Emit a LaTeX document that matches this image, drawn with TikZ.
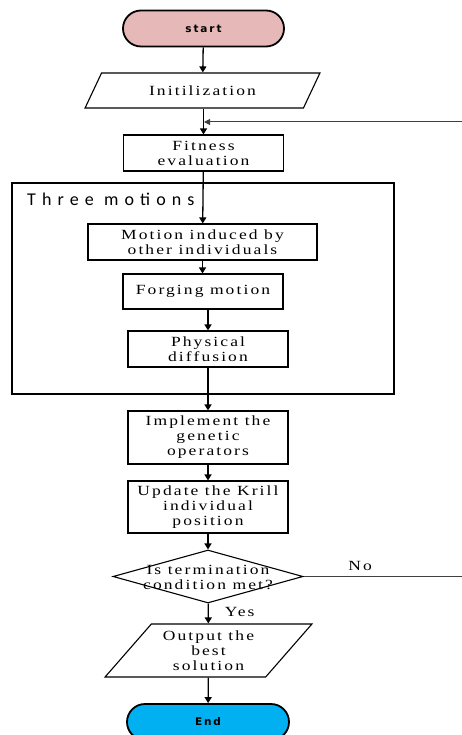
\documentclass[tikz,border=0pt]{standalone}
\usepackage{fontspec}
\setmainfont{Liberation Serif}[FakeStretch=1.25, LetterSpace=15]
\newfontfamily\termfont{DejaVu Sans}[LetterSpace=18]
\newfontfamily\labfont{Carlito}[LetterSpace=34]
\usetikzlibrary{shapes.geometric,shapes.misc,arrows.meta}
\definecolor{startpink}{HTML}{E6B8B7}
\definecolor{endblue}{HTML}{00B0F0}
\begin{document}
\begin{tikzpicture}[x=1pt,y=-1pt,
  txt/.style={font=\fontsize{14}{15}\selectfont, align=center, inner sep=0pt},
  proc/.style={draw, line width=1.1pt, rectangle, minimum width=160pt, txt},
  term/.style={draw, line width=1.8pt, rounded rectangle, minimum width=161pt, minimum height=36pt,
     font=\termfont\bfseries\fontsize{10.5}{12}\selectfont, inner sep=0pt},
  io/.style={draw, line width=1.1pt, trapezium, trapezium stretches=true, txt},
  flow/.style={line width=1.3pt, -{Triangle[width=7pt,length=6pt]}},
  fbline/.style={line width=1pt, draw=black!75, -{Triangle[width=6pt,length=6pt]}},
]
\path[use as bounding box, clip] (0,0) rectangle (462,735);

\node[term, fill=startpink] (start) at (203.5,28.5) {start};
\node[io, minimum width=235pt, minimum height=35pt, trapezium left angle=48.5, trapezium right angle=131.5] (init) at (202.5,90.5) {Initilization};
\node[proc, minimum height=36pt] (fit) at (203.5,153) {Fitness\\evaluation};
\node[draw, line width=1.1pt, rectangle, minimum width=382pt, minimum height=211pt, inner sep=0pt] (frame) at (203,288.5) {};
\node[font=\labfont\fontsize{18}{19}\selectfont, anchor=base west, inner sep=0pt] (framelab) at (27,205) {Three motions};
\node[proc, minimum width=229pt, minimum height=36pt] (motion) at (202.5,242) {Motion induced by\\other individuals};
\node[proc, minimum height=35pt] (forg) at (203,291.5) {Forging motion};
\node[proc, minimum height=36pt] (phys) at (208,349) {Physical\\diffusion};
\node[proc, minimum height=53pt] (impl) at (208,437.5) {Implement the\\genetic\\operators};
\node[proc, minimum height=52pt] (upd) at (208,507) {Update the Krill\\individual\\position};
\node[draw, line width=1.1pt, diamond, minimum width=190pt, minimum height=53pt, inner sep=0pt] (dec) at (208,576.5) {};
\node[txt] (dectxt) at (208,577) {Is termination\\condition met?};
\node[io, minimum width=207pt, minimum height=53pt, trapezium left angle=47.2, trapezium right angle=132.8] (out) at (208.5,650.5) {Output the\\best\\solution};
\node[term, fill=endblue, minimum width=162pt] (end) at (208,722) {End};

\coordinate (fb) at (204,122);
\coordinate (fbturn) at (475,576.5);

\draw[flow] (start) -- (init);
\draw[flow] (init.south -| fit.north) -- (fit.north);
\draw[flow] (fit) -- (motion);
\draw[flow] (motion) -- (motion.south |- forg.north);
\draw[flow] (forg.south -| phys.north) -- (phys.north);
\draw[flow] (phys) -- (impl);
\draw[flow] (impl) -- (upd);
\draw[flow] (upd) -- (dec);
\draw[flow] (dec) -- node[txt, right=16pt, pos=0.45] (yes) {Yes} (out);
\draw[flow] (out) -- (end);
\draw[fbline] (dec.east) -- node[txt, above=5pt, pos=0.33] (no) {No} (fbturn) |- (fb);
\end{tikzpicture}
\end{document}
